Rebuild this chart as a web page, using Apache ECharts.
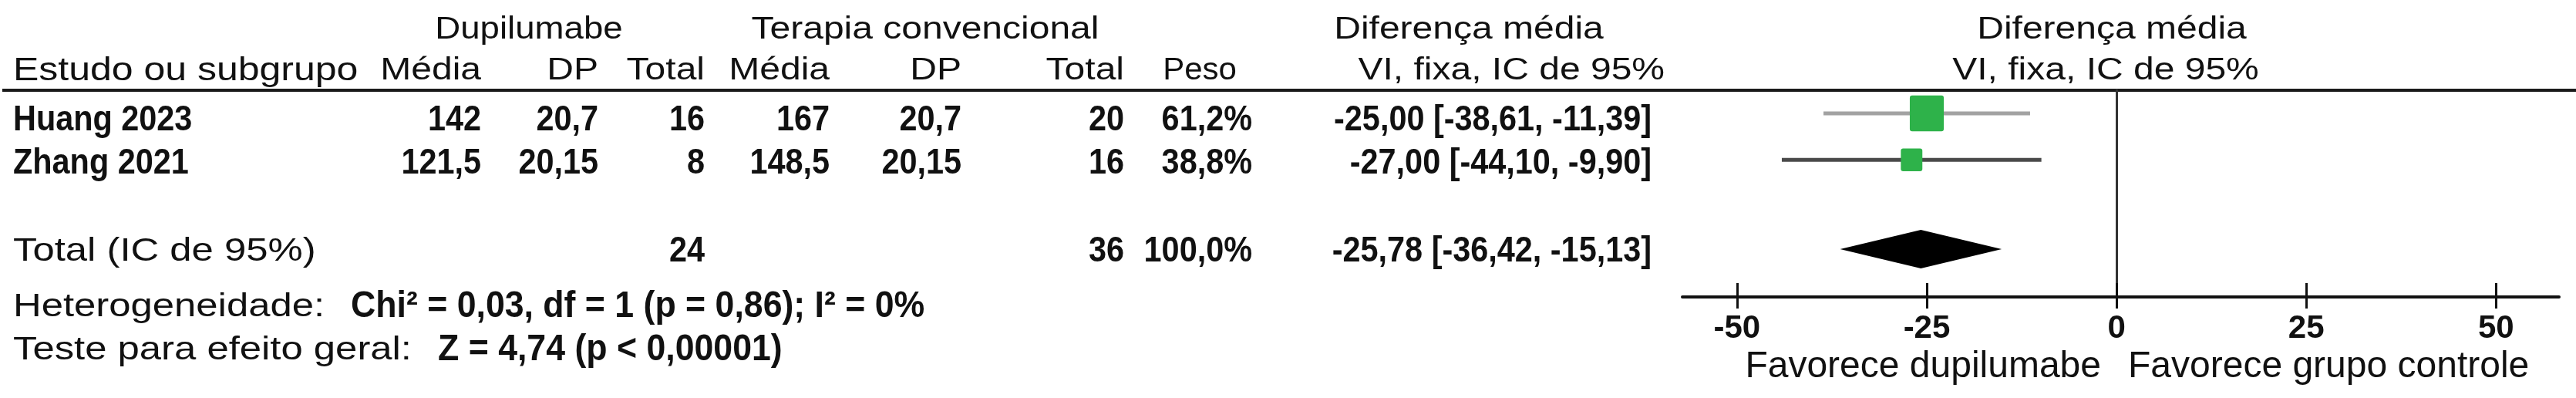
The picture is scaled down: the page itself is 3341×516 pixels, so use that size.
<!DOCTYPE html>
<html>
<head>
<meta charset="utf-8">
<script src="https://cdn.jsdelivr.net/npm/echarts@6/dist/echarts.min.js"></script>
<style>
  html, body { margin: 0; padding: 0; background: #fff; }
  #chart { width: 3341px; height: 516px; }
</style>
</head>
<body>
<div id="chart"></div>
<script>
// dados dos estudos
const studies = ['Huang 2023', 'Zhang 2021'];
const dupMean = [142, 121.5];
const dupSD = [20.7, 20.15];
const dupN = [16, 8];
const convMean = [167, 148.5];
const convSD = [20.7, 20.15];
const convN = [20, 16];
const weight = [61.2, 38.8];
const md = [-25.00, -27.00];
const ciLow = [-38.61, -44.10];
const ciHigh = [-11.39, -9.90];

// total (efeito fixo)
const totalN = [24, 36];
const totalWeight = 100.0;
const pooled = [-25.78, -36.42, -15.13];
const heterogeneity = 'Chi² = 0,03, df = 1 (p = 0,86); I² = 0%';
const overallTest = 'Z = 4,74 (p < 0,00001)';

const ticks = [-50, -25, 0, 25, 50];

const ciColors = ['#a2a2a2', '#4a4a4a'];
const rowIndex = [0, 1];
const totalRow = 2.93;

const dec = v => String(v).replace('.', ',');
const fix = (v, d) => v.toFixed(d).replace('.', ',');

const chart = echarts.init(document.getElementById('chart'));

chart.setOption({
  animation: false,
  backgroundColor: '#fff',
  grid: { left: 2182, right: 22, top: 117, bottom: 131 },
  xAxis: [{
    type: 'value', min: -57.2, max: 58.3, position: 'bottom',
    splitLine: { show: false },
    axisLine: { onZero: false, lineStyle: { color: '#111', width: 4 } },
    axisTick: { customValues: ticks, length: 15, lineStyle: { color: '#111', width: 3 } },
    axisLabel: {
      customValues: ticks, margin: 20, color: '#111',
      fontFamily: 'Liberation Sans', fontWeight: 'bold', fontSize: 42
    }
  }, {
    // segunda camada só para os traços que cruzam a linha do eixo
    type: 'value', min: -57.2, max: 58.3, position: 'bottom',
    splitLine: { show: false },
    axisLine: { show: false, onZero: false },
    axisTick: { customValues: ticks, inside: true, length: 18, lineStyle: { color: '#111', width: 3 } },
    axisLabel: { show: false }
  }],
  yAxis: {
    type: 'value', inverse: true, min: -0.5, max: 3.96,
    splitLine: { show: false }, axisTick: { show: false }, axisLabel: { show: false },
    axisLine: { show: true, onZero: true, lineStyle: { color: '#333', width: 3 } }
  },
  series: [{
    type: 'custom',
    silent: true,
    data: rowIndex.map(i => [md[i], i, ciLow[i], ciHigh[i], weight[i]]),
    encode: { x: [0, 2, 3], y: 1 },
    renderItem(params, api) {
      const y = api.value(1);
      const lo = api.coord([api.value(2), y]);
      const hi = api.coord([api.value(3), y]);
      const c = api.coord([api.value(0), y]);
      const w = api.value(4);
      const bw = w * 0.72, bh = w * 0.76;
      return {
        type: 'group',
        children: [
          { type: 'line', shape: { x1: lo[0], y1: lo[1], x2: hi[0], y2: hi[1] },
            style: { stroke: ciColors[params.dataIndex], lineWidth: 5 } },
          { type: 'rect', shape: { x: c[0] - bw / 2, y: c[1] - bh / 2, width: bw, height: bh, r: 3 },
            style: { fill: '#2eb24a' } }
        ]
      };
    }
  }, {
    type: 'custom',
    silent: true,
    data: [[pooled[0], totalRow, pooled[1], pooled[2]]],
    encode: { x: [0, 2, 3], y: 1 },
    renderItem(params, api) {
      const y = api.value(1);
      const lo = api.coord([api.value(2), y]);
      const hi = api.coord([api.value(3), y]);
      const c = api.coord([api.value(0), y]);
      const h = 25;
      return {
        type: 'polygon',
        shape: { points: [[lo[0], c[1]], [c[0], c[1] - h], [hi[0], c[1]], [c[0], c[1] + h]] },
        style: { fill: '#000' }
      };
    }
  }]
});

// estilos de texto
const REG = { size: 40, sx: 1.2, weight: 'normal' };
const LEFT = { size: 42, sx: 1.21, weight: 'normal' };
const BOLD = { size: 46, sx: 0.9, weight: 'bold' };
const STAT = { size: 48, sx: 0.93, weight: 'bold' };
const FAV = { size: 48, sx: 1, weight: 'normal' };

function txt(text, x, y, align, f) {
  return {
    type: 'text', x: x, y: y, scaleX: f.sx, silent: true,
    style: {
      text: text, fill: '#111',
      font: f.weight + ' ' + f.size + 'px "Liberation Sans"',
      align: align, textAlign: align,
      verticalAlign: 'middle', textVerticalAlign: 'middle'
    }
  };
}

const rowY = rowIndex.map(i => chart.convertToPixel({ yAxisIndex: 0 }, i) + (i === 0 ? 9 : 5));
const totalY = chart.convertToPixel({ yAxisIndex: 0 }, totalRow) + 3;

const g = [];
// linha do cabecalho
g.push({ type: 'line', silent: true, shape: { x1: 3, y1: 117, x2: 3341, y2: 117 },
  style: { stroke: '#1a1a1a', lineWidth: 4 } });

// cabecalho
g.push(txt('Dupilumabe', 686, 39, 'center', { size: 40, sx: 1.14, weight: 'normal' }));
g.push(txt('Terapia convencional', 1200, 39, 'center', REG));
g.push(txt('Diferença média', 1905, 39, 'center', REG));
g.push(txt('Diferença média', 2739, 39, 'center', REG));
g.push(txt('Estudo ou subgrupo', 17, 92, 'left', { size: 42, sx: 1.19, weight: 'normal' }));
g.push(txt('Média', 624, 92, 'right', REG));
g.push(txt('DP', 776, 92, 'right', REG));
g.push(txt('Total', 914, 92, 'right', REG));
g.push(txt('Média', 1076, 92, 'right', REG));
g.push(txt('DP', 1247, 92, 'right', REG));
g.push(txt('Total', 1458, 92, 'right', REG));
g.push(txt('Peso', 1556, 92, 'center', { size: 40, sx: 1.05, weight: 'normal' }));
g.push(txt('VI, fixa, IC de 95%', 2159, 92, 'right', REG));
g.push(txt('VI, fixa, IC de 95%', 2731, 92, 'center', REG));

// linhas dos estudos
rowIndex.forEach(i => {
  const y = rowY[i];
  g.push(txt(studies[i], 17, y, 'left', BOLD));
  g.push(txt(dec(dupMean[i]), 624, y, 'right', BOLD));
  g.push(txt(dec(dupSD[i]), 776, y, 'right', BOLD));
  g.push(txt(String(dupN[i]), 914, y, 'right', BOLD));
  g.push(txt(dec(convMean[i]), 1076, y, 'right', BOLD));
  g.push(txt(dec(convSD[i]), 1247, y, 'right', BOLD));
  g.push(txt(String(convN[i]), 1458, y, 'right', BOLD));
  g.push(txt(fix(weight[i], 1) + '%', 1624, y, 'right', BOLD));
  g.push(txt(fix(md[i], 2) + ' [' + fix(ciLow[i], 2) + ', ' + fix(ciHigh[i], 2) + ']', 2142, y, 'right', BOLD));
});

// total
g.push(txt('Total (IC de 95%)', 17, totalY, 'left', LEFT));
g.push(txt(String(totalN[0]), 914, totalY, 'right', BOLD));
g.push(txt(String(totalN[1]), 1458, totalY, 'right', BOLD));
g.push(txt(fix(totalWeight, 1) + '%', 1624, totalY, 'right', BOLD));
g.push(txt(fix(pooled[0], 2) + ' [' + fix(pooled[1], 2) + ', ' + fix(pooled[2], 2) + ']', 2142, totalY, 'right', BOLD));

g.push(txt('Heterogeneidade:', 17, 398, 'left', LEFT));
g.push(txt(heterogeneity, 455, 398, 'left', STAT));
g.push(txt('Teste para efeito geral:', 17, 454, 'left', LEFT));
g.push(txt(overallTest, 568, 454, 'left', STAT));

// rotulos sob o eixo
g.push(txt('Favorece dupilumabe', 2725, 476, 'right', FAV));
g.push(txt('Favorece grupo controle', 2760, 476, 'left', FAV));

chart.setOption({ graphic: { elements: g } });
</script>
</body>
</html>
